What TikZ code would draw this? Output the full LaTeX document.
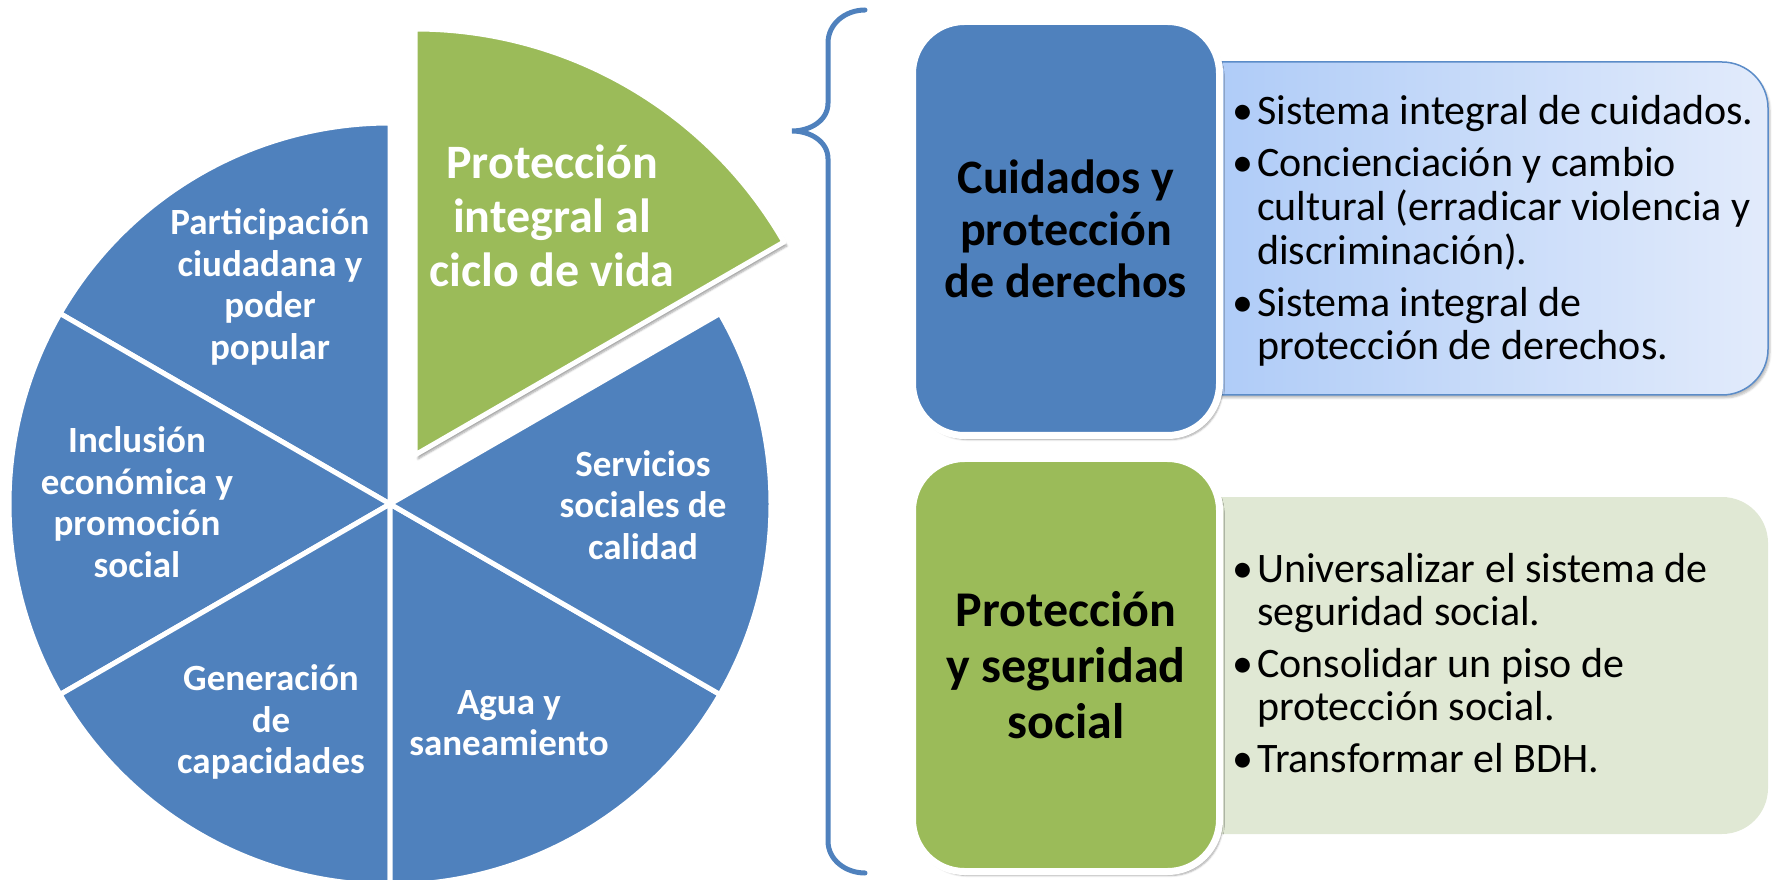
\documentclass[tikz,border=0pt]{standalone}
\usepackage{fontspec}
\setmainfont{Carlito}
\usepackage{tikz}
\usetikzlibrary{shadows.blur}
\definecolor{pieblue}{HTML}{4F81BD}
\definecolor{piegreen}{HTML}{9BBB59}
\definecolor{paneblueL}{HTML}{A9C8F7}
\definecolor{paneblueR}{HTML}{E2EBFB}
\definecolor{panegreen}{HTML}{E0E8D4}
\definecolor{paneline}{HTML}{5B8CC8}

\begin{document}
\begin{tikzpicture}[x=1pt, y=1pt,
    slice/.style={fill=pieblue, draw=white, line width=5pt, line join=round},
    slicetext/.style={text=white, font=\bfseries\fontsize{37}{41.5}\selectfont, align=center},
    titlebox/.style={rectangle, rounded corners=52pt, draw=white, line width=7pt, minimum width=307pt, align=center,
        blur shadow={shadow xshift=3pt, shadow yshift=-4pt, shadow opacity=35, shadow blur steps=6}},
    panel/.style={rectangle, rounded corners=46pt, minimum width=618pt},
    itemtext/.style={anchor=west, inner sep=0pt, font=\fontsize{42}{43}\selectfont}]
    \useasboundingbox (0,0) rectangle (1776,879);
    \coordinate (ctr) at (390,375);
    \coordinate (tip) at (415,424);
    \foreach \a in {90,150,...,330}
        \draw[slice] (ctr) -- ++(\a:381) arc[start angle=\a, end angle=\a+60, radius=381] -- cycle;
    \draw[slice, fill=piegreen, blur shadow={shadow xshift=3pt, shadow yshift=-4pt, shadow opacity=35, shadow blur steps=6}]
        (tip) -- ++(30:426) arc[start angle=30, end angle=90, radius=426] -- cycle;
    \node[slicetext] (partic) at (270,592) {Participación\\ciudadana y\\poder\\popular};
    \node[slicetext] (inclus) at (137,377) {Inclusión\\económica y\\promoción\\social};
    \node[slicetext] (genera) at (271,157) {Generación\\de\\capacidades};
    \node[slicetext] (agua) at (509,156) {Agua y\\saneamiento};
    \node[slicetext] (servic) at (643,374) {Servicios\\sociales de\\calidad};
    \node[slicetext, font=\bfseries\fontsize{48}{54}\selectfont] (ciclo) at (552,663) {Protección\\integral al\\ciclo de vida};
    \draw[pieblue, line width=5pt, line cap=round] (865,869) to[out=180, in=90] (828,836) -- (828,776)
        to[out=-90, in=0] (792,748) to[out=0, in=90] (828,720) -- (828,38) to[out=-90, in=180] (865,6);
    \node[panel, minimum height=333pt, left color=paneblueL, right color=paneblueR, draw=paneline, line width=1.5pt,
        blur shadow={shadow xshift=2pt, shadow yshift=-3pt, shadow opacity=25}] (cuidpanel) at (1459,650.5) {};
    \node[titlebox, fill=pieblue, minimum height=414pt, font=\bfseries\fontsize{48}{52}\selectfont] (cuidbox) at (1066,650.5)
        {Cuidados y\\protección\\de derechos};
    \node[itemtext] (cuidlist) at (1232,645.5) {\begin{tabular}{@{}l@{\hspace{4pt}}l@{}}
        \textbullet & Sistema integral de cuidados.\\[9pt]
        \textbullet & Concienciación y cambio\\
                    & cultural (erradicar violencia y\\
                    & discriminación).\\[9pt]
        \textbullet & Sistema integral de\\
                    & protección de derechos.
    \end{tabular}};
    \node[panel, minimum height=337pt, fill=panegreen] (protpanel) at (1459,213.5) {};
    \node[titlebox, fill=piegreen, minimum height=413pt, font=\bfseries\fontsize{50}{56}\selectfont] (protbox) at (1066,214)
        {Protección\\y seguridad\\social};
    \node[itemtext] (protlist) at (1232,210) {\begin{tabular}{@{}l@{\hspace{4pt}}l@{}}
        \textbullet & Universalizar el sistema de\\
                    & seguridad social.\\[9pt]
        \textbullet & Consolidar un piso de\\
                    & protección social.\\[9pt]
        \textbullet & Transformar el BDH.
    \end{tabular}};
\end{tikzpicture}
\end{document}
